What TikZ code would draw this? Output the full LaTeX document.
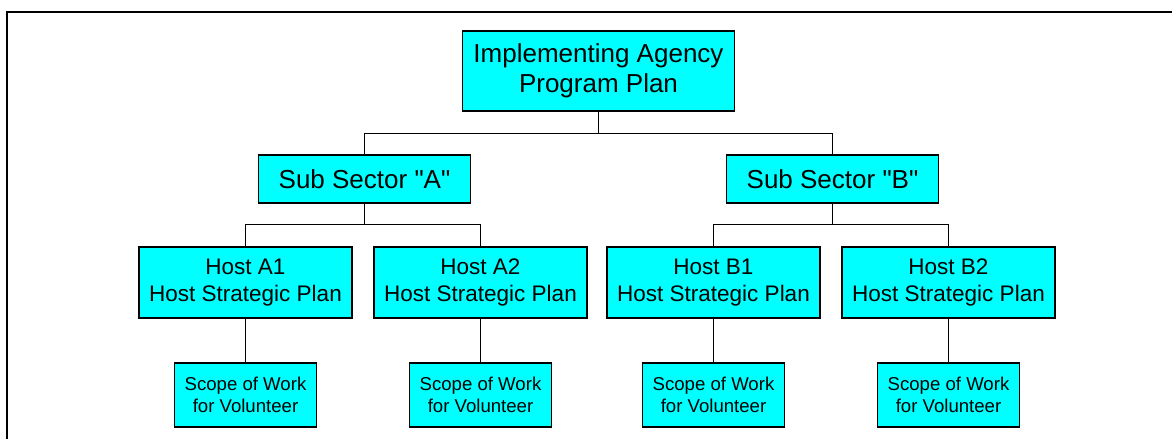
\documentclass[tikz,border=0pt]{standalone}
\usepackage{fontspec}
\setmainfont{Liberation Sans}
\usepackage{tikz}
\usetikzlibrary{positioning, calc}
\definecolor{BoxColor}{RGB}{0,255,255}
\definecolor{LineColor}{RGB}{0,0,0}
\tikzstyle{link} = [line width=1.1pt, LineColor]
\tikzset{
  planbox/.style={rectangle, draw=LineColor, line width=1.7pt, fill=BoxColor, align=center, inner sep=0pt},
  agencybox/.style={planbox, minimum width=272pt, minimum height=80pt, font=\fontsize{26}{30}\selectfont},
  sectorbox/.style={planbox, minimum width=212pt, minimum height=48pt, font=\fontsize{26}{30}\selectfont},
  hostbox/.style={planbox, minimum width=213pt, minimum height=71pt, font=\fontsize{22.5}{26.5}\selectfont},
  scopebox/.style={planbox, minimum width=142pt, minimum height=64pt, font=\fontsize{18.6}{22}\selectfont}
}
\begin{document}
\begin{tikzpicture}[x=1pt, y=-1pt]
                \useasboundingbox (0,0) rectangle (1172,439);
                % Frame
                \draw[line width=2pt, LineColor] (7,439) -- (7,12) -- (1172,12);

                % Program plan
                \node[agencybox] (agency) at (598.5,71) {Implementing Agency\\Program Plan};

                % Sub sectors
                \node[sectorbox] (sectorA) at (364.5,179) {Sub Sector \textquotedbl A\textquotedbl};
                \node[sectorbox] (sectorB) at (832.5,179) {Sub Sector \textquotedbl B\textquotedbl};

                % Hosts
                \node[hostbox] (hostA1) at (245.5,282.5) {Host A1\\Host Strategic Plan};
                \node[hostbox] (hostA2) at (480.5,282.5) {Host A2\\Host Strategic Plan};
                \node[hostbox] (hostB1) at (713.5,282.5) {Host B1\\Host Strategic Plan};
                \node[hostbox] (hostB2) at (948.5,282.5) {Host B2\\Host Strategic Plan};

                % Scopes of work
                \foreach \h in {A1, A2, B1, B2}
                    \node[scopebox, below=43pt of host\h] (scope\h) {Scope of Work\\for Volunteer};

                % Connectors
                \draw[link] (agency.south) -- ++(0,22) coordinate (agencybus);
                \draw[link] (agencybus) -| (sectorA.north);
                \draw[link] (agencybus) -| (sectorB.north);
                \foreach \s in {A, B} {
                    \draw[link] (sector\s.south) -- ++(0,21) coordinate (bus\s);
                    \draw[link] (bus\s) -| (host\s1.north);
                    \draw[link] (bus\s) -| (host\s2.north);
                }
                \foreach \h in {A1, A2, B1, B2}
                    \draw[link] (host\h.south) -- (scope\h.north);
            \end{tikzpicture}
\end{document}
